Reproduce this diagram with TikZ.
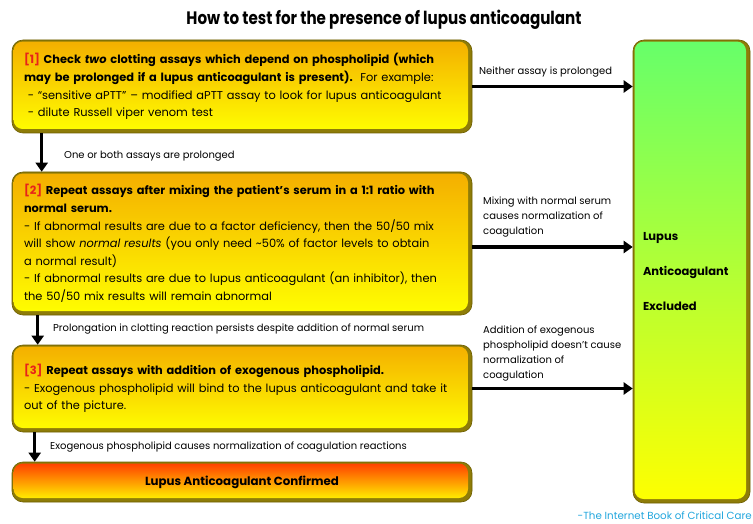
\documentclass[tikz,border=0pt]{standalone}
\usepackage{fontspec}
\setmainfont{Poppins}
\newfontfamily\titlefont[FakeStretch=0.84]{Poppins}
\usetikzlibrary{arrows.meta,positioning,calc}
\definecolor{amber}{HTML}{F4AE00}
\definecolor{lemon}{HTML}{FFFF00}
\definecolor{flame}{HTML}{FF3A00}
\definecolor{lime}{HTML}{66FF6A}
\definecolor{bevel}{HTML}{8E7C08}
\definecolor{bevelline}{HTML}{6E5E00}
\definecolor{stepred}{HTML}{E8231A}
\definecolor{credit}{HTML}{22A6DD}
\tikzset{
  nohyph/.style={execute at begin node={\hyphenpenalty=10000\exhyphenpenalty=10000\relax}},
  bevelbox/.style n args={2}{rounded corners=11pt, fill=bevel, draw=bevelline, line width=0.6pt,
    path picture={\shade[top color=#1, bottom color=#2, rounded corners=9pt]
      ([shift={(1.6pt,-1.6pt)}]path picture bounding box.north west) rectangle
      ([shift={(-4pt,4pt)}]path picture bounding box.south east);}},
  stepbox/.style={bevelbox={amber}{lemon}, minimum width=460pt, text width=436pt,
    inner xsep=12pt, align=left, nohyph, font=\fontsize{11.4}{17.6}\selectfont},
  flow/.style={-{Triangle[length=9pt,width=12pt]}, line width=3.2pt, black},
  lbl/.style={font=\fontsize{10}{15}\selectfont, align=left, anchor=west, inner sep=0pt, nohyph},
}
\begin{document}
\begin{tikzpicture}[x=1pt, y=-1pt]
  \useasboundingbox (0,0) rectangle (753,524);
  \node[font=\titlefont\bfseries\fontsize{18}{21}\selectfont] (title) at (384,20) {How to test for the presence of lupus anticoagulant};
  % steps
  \node[stepbox, minimum height=93pt] (check) at (242,86.5) {\textbf{\textcolor{stepred}{[1]} Check \textit{two} clotting assays which depend on phospholipid (which}\\
    \textbf{may be prolonged if a lupus anticoagulant is present).}\ \ For example:\\
    \ - “sensitive aPTT” -- modified aPTT assay to look for lupus anticoagulant\\
    \ - dilute Russell viper venom test};
  \node[stepbox, minimum height=143pt] (mix) at (242,243.5) {\textbf{\textcolor{stepred}{[2]} Repeat assays after mixing the patient’s serum in a 1:1 ratio with}\\
    \textbf{normal serum.}\\
    - If abnormal results are due to a factor deficiency, then the 50/50 mix\\
    will show \textit{normal results} (you only need \textasciitilde50\% of factor levels to obtain\\
    a normal result)\\
    - If abnormal results are due to lupus anticoagulant (an inhibitor), then\\
    the 50/50 mix results will remain abnormal};
  \node[stepbox, minimum height=87pt] (phos) at (242,388.5) {\textbf{\textcolor{stepred}{[3]} Repeat assays with addition of exogenous phospholipid.}\\
    - Exogenous phospholipid will bind to the lupus anticoagulant and take it\\
    out of the picture.};
  \node[bevelbox={flame}{lemon}, minimum width=460pt, minimum height=40pt, font=\bfseries\fontsize{11.8}{14}\selectfont] (confirm) at (242,482) {Lupus Anticoagulant Confirmed};
  \node[bevelbox={lime}{lemon}, minimum width=117pt, minimum height=463pt, text width=97pt, inner xsep=10pt, align=left, font=\bfseries\fontsize{11.5}{14}\selectfont] (excl) at (691.5,271.5) {Lupus\\[21pt]Anticoagulant\\[21pt]Excluded};
  % down the left
  \draw[flow] ([xshift=30pt]check.south west) -- ([xshift=30pt]check.south west |- mix.north);
  \draw[flow] ([xshift=26pt]mix.south west) -- ([xshift=26pt]mix.south west |- phos.north);
  \draw[flow] ([xshift=23pt]phos.south west) -- ([xshift=23pt]phos.south west |- confirm.north);
  \node[lbl] (l1) at (64,156) {One or both assays are prolonged};
  \node[lbl] (l2) at (53,329) {Prolongation in clotting reaction persists despite addition of normal serum};
  \node[lbl] (l3) at (50,447) {Exogenous phospholipid causes normalization of coagulation reactions};
  % across to the right
  \draw[flow] (check.east) -- (check.east -| excl.west);
  \draw[flow] ([yshift=-3.5pt]mix.east) -- ([yshift=-3.5pt]mix.east -| excl.west);
  \draw[flow] (phos.east) -- (phos.east -| excl.west);
  \node[lbl] (r1) at (479,72) {Neither assay is prolonged};
  \node[lbl] (r2) at (483,217) {Mixing with normal serum\\causes normalization of\\coagulation};
  \node[lbl] (r3) at (483,353.5) {Addition of exogenous\\phospholipid doesn’t cause\\normalization of\\coagulation};
  \node[lbl, anchor=east, text=credit, font=\fontsize{10.3}{12}\selectfont] (src) at (752,516) {-The Internet Book of Critical Care};
\end{tikzpicture}
\end{document}
